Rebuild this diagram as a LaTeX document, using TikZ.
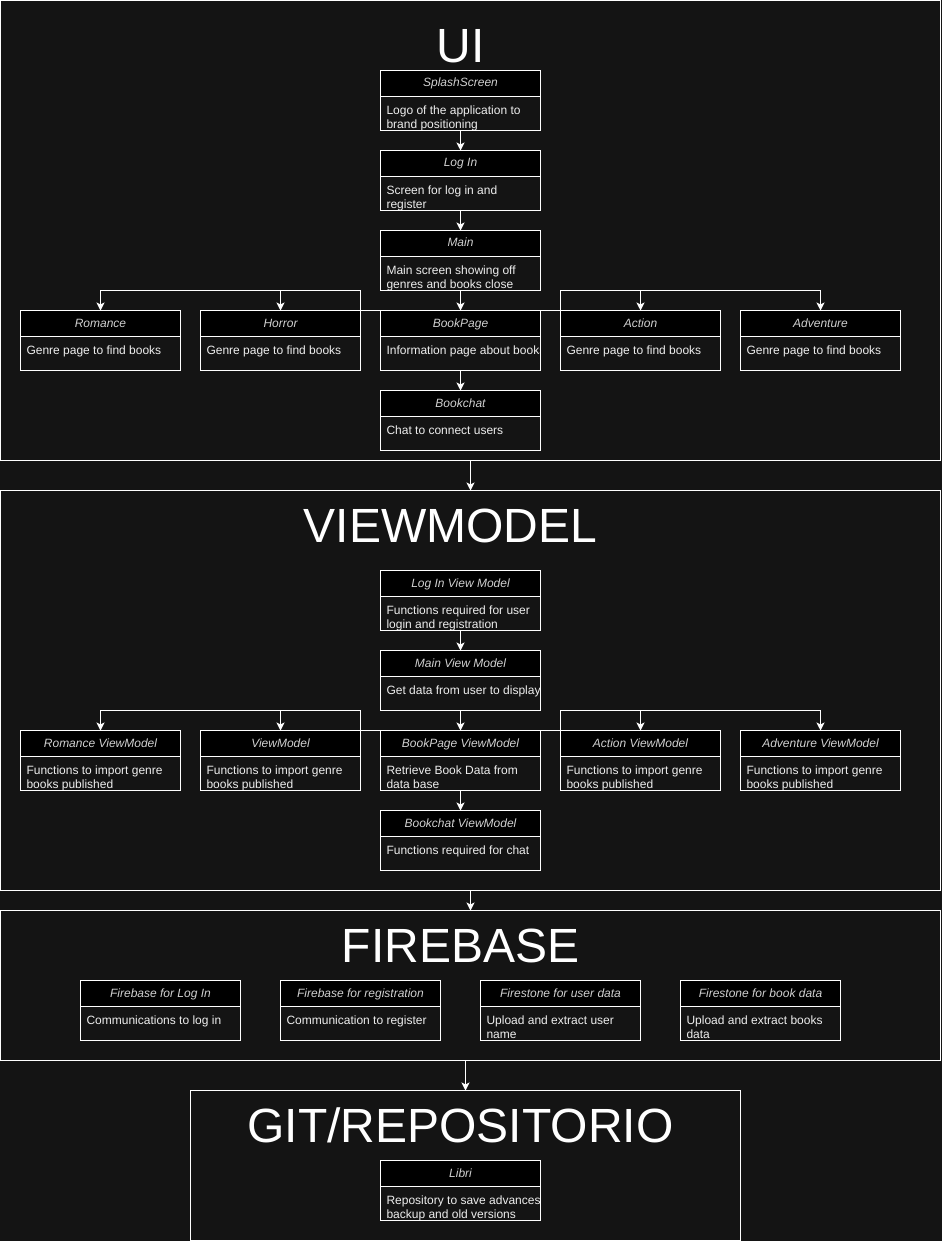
\documentclass[tikz,border=0pt]{standalone}
\usepackage{fontspec}
\setmainfont{Liberation Sans}
\usepackage{xcolor}
\usetikzlibrary{positioning,arrows.meta}
\definecolor{bgdark}{HTML}{141414}
\definecolor{headink}{HTML}{D0D0D0}
\definecolor{bodyink}{HTML}{EEEEEE}
\tikzset{>={Stealth[length=8pt,width=8pt,inset=2pt]}}

\begin{document}
\begin{tikzpicture}[x=1pt, y=-1pt,
                    layer/.style={draw=white, line width=1pt, fill=bgdark, inner sep=0pt, outer sep=0pt},
                    title/.style={text=white, font=\fontsize{48}{56}\selectfont, anchor=base, inner sep=0pt},
                    head/.style={draw=white, line width=1pt, fill=black, text=headink, font=\itshape\fontsize{12}{14}\selectfont,
                                 minimum width=160pt, minimum height=26pt, inner sep=0pt, outer sep=0pt,
                                 text height=9pt, text depth=2pt},
                    bodytext/.style={anchor=north west, inner sep=0pt, align=left, text=bodyink, font=\fontsize{12}{14}\selectfont,
                                     minimum width=0pt, minimum height=0pt, draw=none, fill=none},
                    body/.style={draw=white, line width=1pt, fill=bgdark, minimum width=160pt, minimum height=34pt,
                                 inner sep=0pt, outer sep=0pt,
                                 path picture={\node[bodytext] at ([xshift=6pt,yshift=-9.5pt]path picture bounding box.north west) {#1};}},
                    conn/.style={white, line width=1pt, ->},
                   ]

% page and layers
\fill[bgdark] (-0.5,-0.5) rectangle (941.5,1240.5);
\useasboundingbox (-0.5,-0.5) rectangle (941.5,1240.5);

\node[layer, minimum width=940pt, minimum height=460pt] (ui) at (470,230) {};
\node[layer, minimum width=940pt, minimum height=400pt] (vm) at (470,690) {};
\node[layer, minimum width=940pt, minimum height=150pt] (fb) at (470,985) {};
\node[layer, minimum width=550pt, minimum height=150pt] (git) at (465,1165) {};

\node[title] (ui-t) at (460,62) {UI};
\node[title] (vm-t) at (450,542) {VIEWMODEL};
\node[title] (fb-t) at (460,962) {FIREBASE};
\node[title] (git-t) at (460,1142) {GIT/REPOSITORIO};

% UI
\node[head] (splash) at (460,83) {SplashScreen};
\node[body={Logo of the application to\\brand positioning}, below=0pt of splash] (splash-b) {};
\node[head] (login) at (460,163) {Log In};
\node[body={Screen for log in and\\register}, below=0pt of login] (login-b) {};
\node[head] (main) at (460,243) {Main};
\node[body={Main screen showing off\\genres and books close}, below=0pt of main] (main-b) {};
\node[head] (romance) at (100,323) {Romance};
\node[body={Genre page to find books}, below=0pt of romance] (romance-b) {};
\node[head] (horror) at (280,323) {Horror};
\node[body={Genre page to find books}, below=0pt of horror] (horror-b) {};
\node[head] (book) at (460,323) {BookPage};
\node[body={Information page about books}, below=0pt of book] (book-b) {};
\node[head] (action) at (640,323) {Action};
\node[body={Genre page to find books}, below=0pt of action] (action-b) {};
\node[head] (adventure) at (820,323) {Adventure};
\node[body={Genre page to find books}, below=0pt of adventure] (adventure-b) {};
\node[head] (chat) at (460,403) {Bookchat};
\node[body={Chat to connect users}, below=0pt of chat] (chat-b) {};

\draw[conn] (splash-b.south) -- (login.north);
\draw[conn] (login-b.south) -- (main.north);
\draw[conn] (main-b.south) -- (book.north);
\draw[conn] (book-b.south) -- (chat.north);
\draw[conn] (book.north west) -- ++(-20,0) -- ++(0,-20) -| (romance.north);
\draw[conn] (book.north west) -- ++(-20,0) -- ++(0,-20) -| (horror.north);
\draw[conn] (book.north east) -- ++(20,0) -- ++(0,-20) -| (action.north);
\draw[conn] (book.north east) -- ++(20,0) -- ++(0,-20) -| (adventure.north);

% VIEWMODEL
\node[head] (loginvm) at (460,583) {Log In View Model};
\node[body={Functions required for user\\login and registration}, below=0pt of loginvm] (loginvm-b) {};
\node[head] (mainvm) at (460,663) {Main View Model};
\node[body={Get data from user to display}, below=0pt of mainvm] (mainvm-b) {};
\node[head] (romancevm) at (100,743) {Romance ViewModel};
\node[body={Functions to import genre\\books published}, below=0pt of romancevm] (romancevm-b) {};
\node[head] (genrevm) at (280,743) {ViewModel};
\node[body={Functions to import genre\\books published}, below=0pt of genrevm] (genrevm-b) {};
\node[head] (bookvm) at (460,743) {BookPage ViewModel};
\node[body={Retrieve Book Data from\\data base}, below=0pt of bookvm] (bookvm-b) {};
\node[head] (actionvm) at (640,743) {Action ViewModel};
\node[body={Functions to import genre\\books published}, below=0pt of actionvm] (actionvm-b) {};
\node[head] (adventurevm) at (820,743) {Adventure ViewModel};
\node[body={Functions to import genre\\books published}, below=0pt of adventurevm] (adventurevm-b) {};
\node[head] (chatvm) at (460,823) {Bookchat ViewModel};
\node[body={Functions required for chat}, below=0pt of chatvm] (chatvm-b) {};

\draw[conn] (loginvm-b.south) -- (mainvm.north);
\draw[conn] (mainvm-b.south) -- (bookvm.north);
\draw[conn] (bookvm-b.south) -- (chatvm.north);
\draw[conn] (bookvm.north west) -- ++(-20,0) -- ++(0,-20) -| (romancevm.north);
\draw[conn] (bookvm.north west) -- ++(-20,0) -- ++(0,-20) -| (genrevm.north);
\draw[conn] (bookvm.north east) -- ++(20,0) -- ++(0,-20) -| (actionvm.north);
\draw[conn] (bookvm.north east) -- ++(20,0) -- ++(0,-20) -| (adventurevm.north);

% FIREBASE
\node[head] (fblogin) at (160,993) {Firebase for Log In};
\node[body={Communications to log in}, below=0pt of fblogin] (fblogin-b) {};
\node[head] (fbreg) at (360,993) {Firebase for registration};
\node[body={Communication to register}, below=0pt of fbreg] (fbreg-b) {};
\node[head] (fsuser) at (560,993) {Firestone for user data};
\node[body={Upload and extract user\\name}, below=0pt of fsuser] (fsuser-b) {};
\node[head] (fsbook) at (760,993) {Firestone for book data};
\node[body={Upload and extract books\\data}, below=0pt of fsbook] (fsbook-b) {};

% GIT
\node[head] (libri) at (460,1173) {Libri};
\node[body={Repository to save advances\\backup and old versions}, below=0pt of libri] (libri-b) {};

% between layers
\draw[conn] (ui.south) -- (vm.north);
\draw[conn] (vm.south) -- (fb.north);
\draw[conn] (fb.south -| git.north) -- (git.north);

\end{tikzpicture}
\end{document}
